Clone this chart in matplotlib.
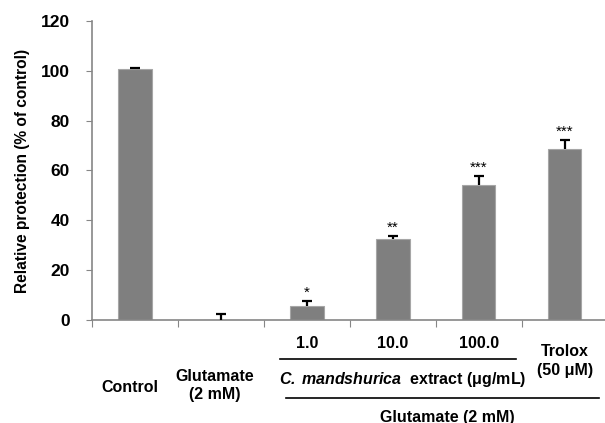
import matplotlib.pyplot as plt
import numpy as np

groups = ["Control", "Glutamate\n(2 mM)", "1.0", "10.0", "100.0", "Trolox\n(50 \u03bcM)"]
values = [100.7, 0.0, 5.7, 32.4, 54.0, 68.8]
errors = [0.6, 2.3, 1.9, 1.3, 3.9, 3.3]
stars = ["", "", "*", "**", "***", "***"]

plt.rcParams["font.family"] = ["Liberation Sans", "DejaVu Sans"]
plt.rcParams["font.weight"] = "bold"
plt.rcParams["mathtext.fontset"] = "custom"
plt.rcParams["mathtext.bfit"] = "Liberation Sans:bold:italic"
plt.rcParams["mathtext.rm"] = "Liberation Sans:bold"

fig = plt.figure(figsize=(6.05, 4.23), dpi=100)
ax = fig.add_axes([92 / 605, 103 / 423, 513 / 605, 299 / 423])

x = np.arange(len(values))
ax.bar(x, values, width=0.39, color="#7f7f7f", edgecolor="#a6a6a6", linewidth=0.8, zorder=2)
eb = ax.errorbar(x, values, yerr=[np.zeros(len(errors)), errors], fmt="none",
                 ecolor="black", elinewidth=1.6, capsize=3.5, capthick=1.6, zorder=3)
# only the upper cap, like the original
eb[1][0].set_visible(False)

for xi, v, e, s in zip(x, values, errors, stars):
    if s:
        ax.annotate(s, (xi, v + e), xytext=(0, 1), textcoords="offset points",
                    ha="center", va="bottom", fontsize=11, fontweight="normal")

ax.set_xlim(-0.5, 5.47)
ax.set_ylim(0, 120)
ax.set_yticks(np.arange(0, 121, 20))
ax.set_xticks(np.arange(-0.5, 5.5, 1.0))
ax.set_xticklabels([])
ax.tick_params(axis="y", labelsize=12.5, length=4, color="#868686", pad=12)
ax.tick_params(axis="x", length=5, color="#868686")
for lab in ax.get_yticklabels():
    lab.set_fontweight("bold")

for sp in ["top", "right"]:
    ax.spines[sp].set_visible(False)
for sp in ["left", "bottom"]:
    ax.spines[sp].set_color("#868686")
    ax.spines[sp].set_linewidth(1.2)

ax.set_ylabel("Relative protection (% of control)", fontsize=11.2, fontweight="bold", labelpad=8)

tr = ax.get_xaxis_transform()


def yfrac(py):
    return (320 - py) / 299.0


# group labels below the axis
ax.text(0 - 0.06, yfrac(387), groups[0], transform=tr, ha="center", va="center", fontsize=11.5)
ax.text(1 - 0.07, yfrac(385), groups[1], transform=tr, ha="center", va="center", fontsize=11.5,
        linespacing=1.25)
for i in [2, 3, 4]:
    ax.text(i, yfrac(343), groups[i], transform=tr, ha="center", va="center", fontsize=11.5)
ax.text(5, yfrac(361), groups[5], transform=tr, ha="center", va="center", fontsize=11.5,
        linespacing=1.3)

ax.plot([1.69, 4.43], [yfrac(359)] * 2, transform=tr, color="black", lw=1.2, clip_on=False)
ax.text(3.12, yfrac(379), "$\\mathbfit{C.\\,mandshurica}$  extract (\u03bcg/mL)", transform=tr,
        ha="center", va="center", fontsize=11.5)
ax.plot([1.76, 5.4], [yfrac(398)] * 2, transform=tr, color="black", lw=1.2, clip_on=False)
ax.text(3.64, yfrac(417), "Glutamate (2 mM)", transform=tr, ha="center", va="center", fontsize=11.5)

fig.savefig("out.png", dpi=100)
